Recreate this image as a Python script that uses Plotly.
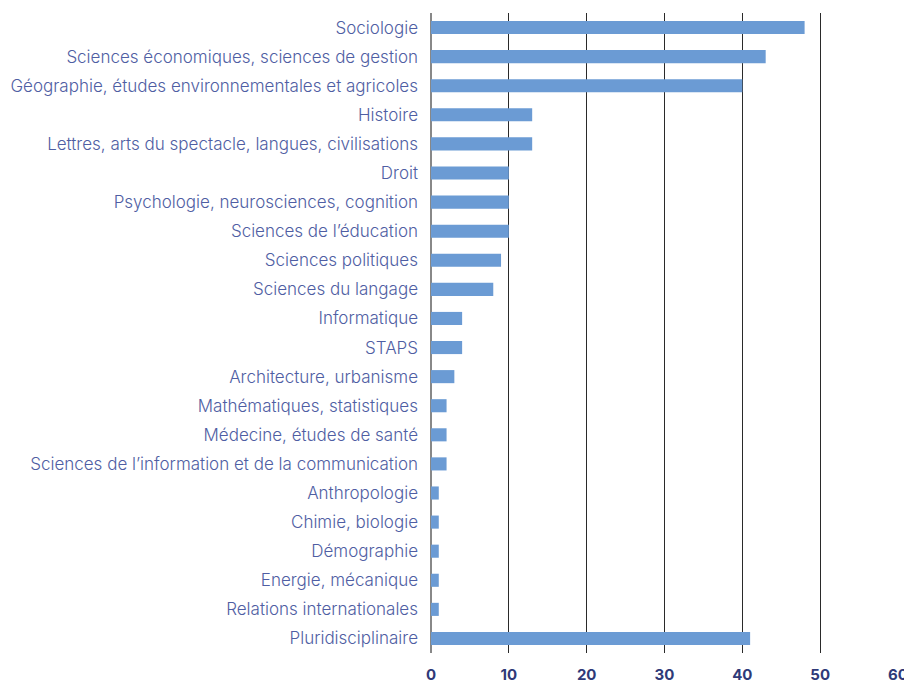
import plotly.graph_objects as go

categories = [
    "Sociologie",
    "Sciences économiques, sciences de gestion",
    "Géographie, études environnementales et agricoles",
    "Histoire",
    "Lettres, arts du spectacle, langues, civilisations",
    "Droit",
    "Psychologie, neurosciences, cognition",
    "Sciences de l’éducation",
    "Sciences politiques",
    "Sciences du langage",
    "Informatique",
    "STAPS",
    "Architecture, urbanisme",
    "Mathématiques, statistiques",
    "Médecine, études de santé",
    "Sciences de l’information et de la communication",
    "Anthropologie",
    "Chimie, biologie",
    "Démographie",
    "Energie, mécanique",
    "Relations internationales",
    "Pluridisciplinaire",
]
values = [48, 43, 40, 13, 13, 10, 10, 10, 9, 8, 4, 4, 3, 2, 2, 2, 1, 1, 1, 1, 1, 41]
tick_vals = [0, 10, 20, 30, 40, 50, 60]

fig = go.Figure(go.Bar(
    x=values, y=categories, orientation="h",
    marker=dict(color="#6b9bd4", line=dict(width=0)),
    hoverinfo="x+y",
))
fig.update_layout(
    width=904, height=675,
    margin=dict(l=423, r=14, t=5, b=30, autoexpand=False),
    paper_bgcolor="white", plot_bgcolor="white",
    bargap=0.55, showlegend=False,
    font=dict(family="Inter, Roboto, sans-serif"),
)
fig.update_xaxes(
    range=[0, 60], tickvals=tick_vals, showgrid=True, gridcolor="#2a2a2a", gridwidth=1,
    zeroline=True, zerolinecolor="#888888", zerolinewidth=2,
    tickfont=dict(family="Inter, Roboto, sans-serif", size=15, color="#2f3a78", weight="bold"),
    ticks="", showline=False, ticklabelstandoff=11, automargin=False,
)
fig.update_yaxes(
    autorange="reversed", categoryorder="array", categoryarray=categories,
    tickfont=dict(family="Inter, Roboto, sans-serif", size=17, color="#4f5ea3", weight=300),
    ticks="", showline=False, ticklabelstandoff=12, automargin=False,
)
fig.write_html("out.html")
